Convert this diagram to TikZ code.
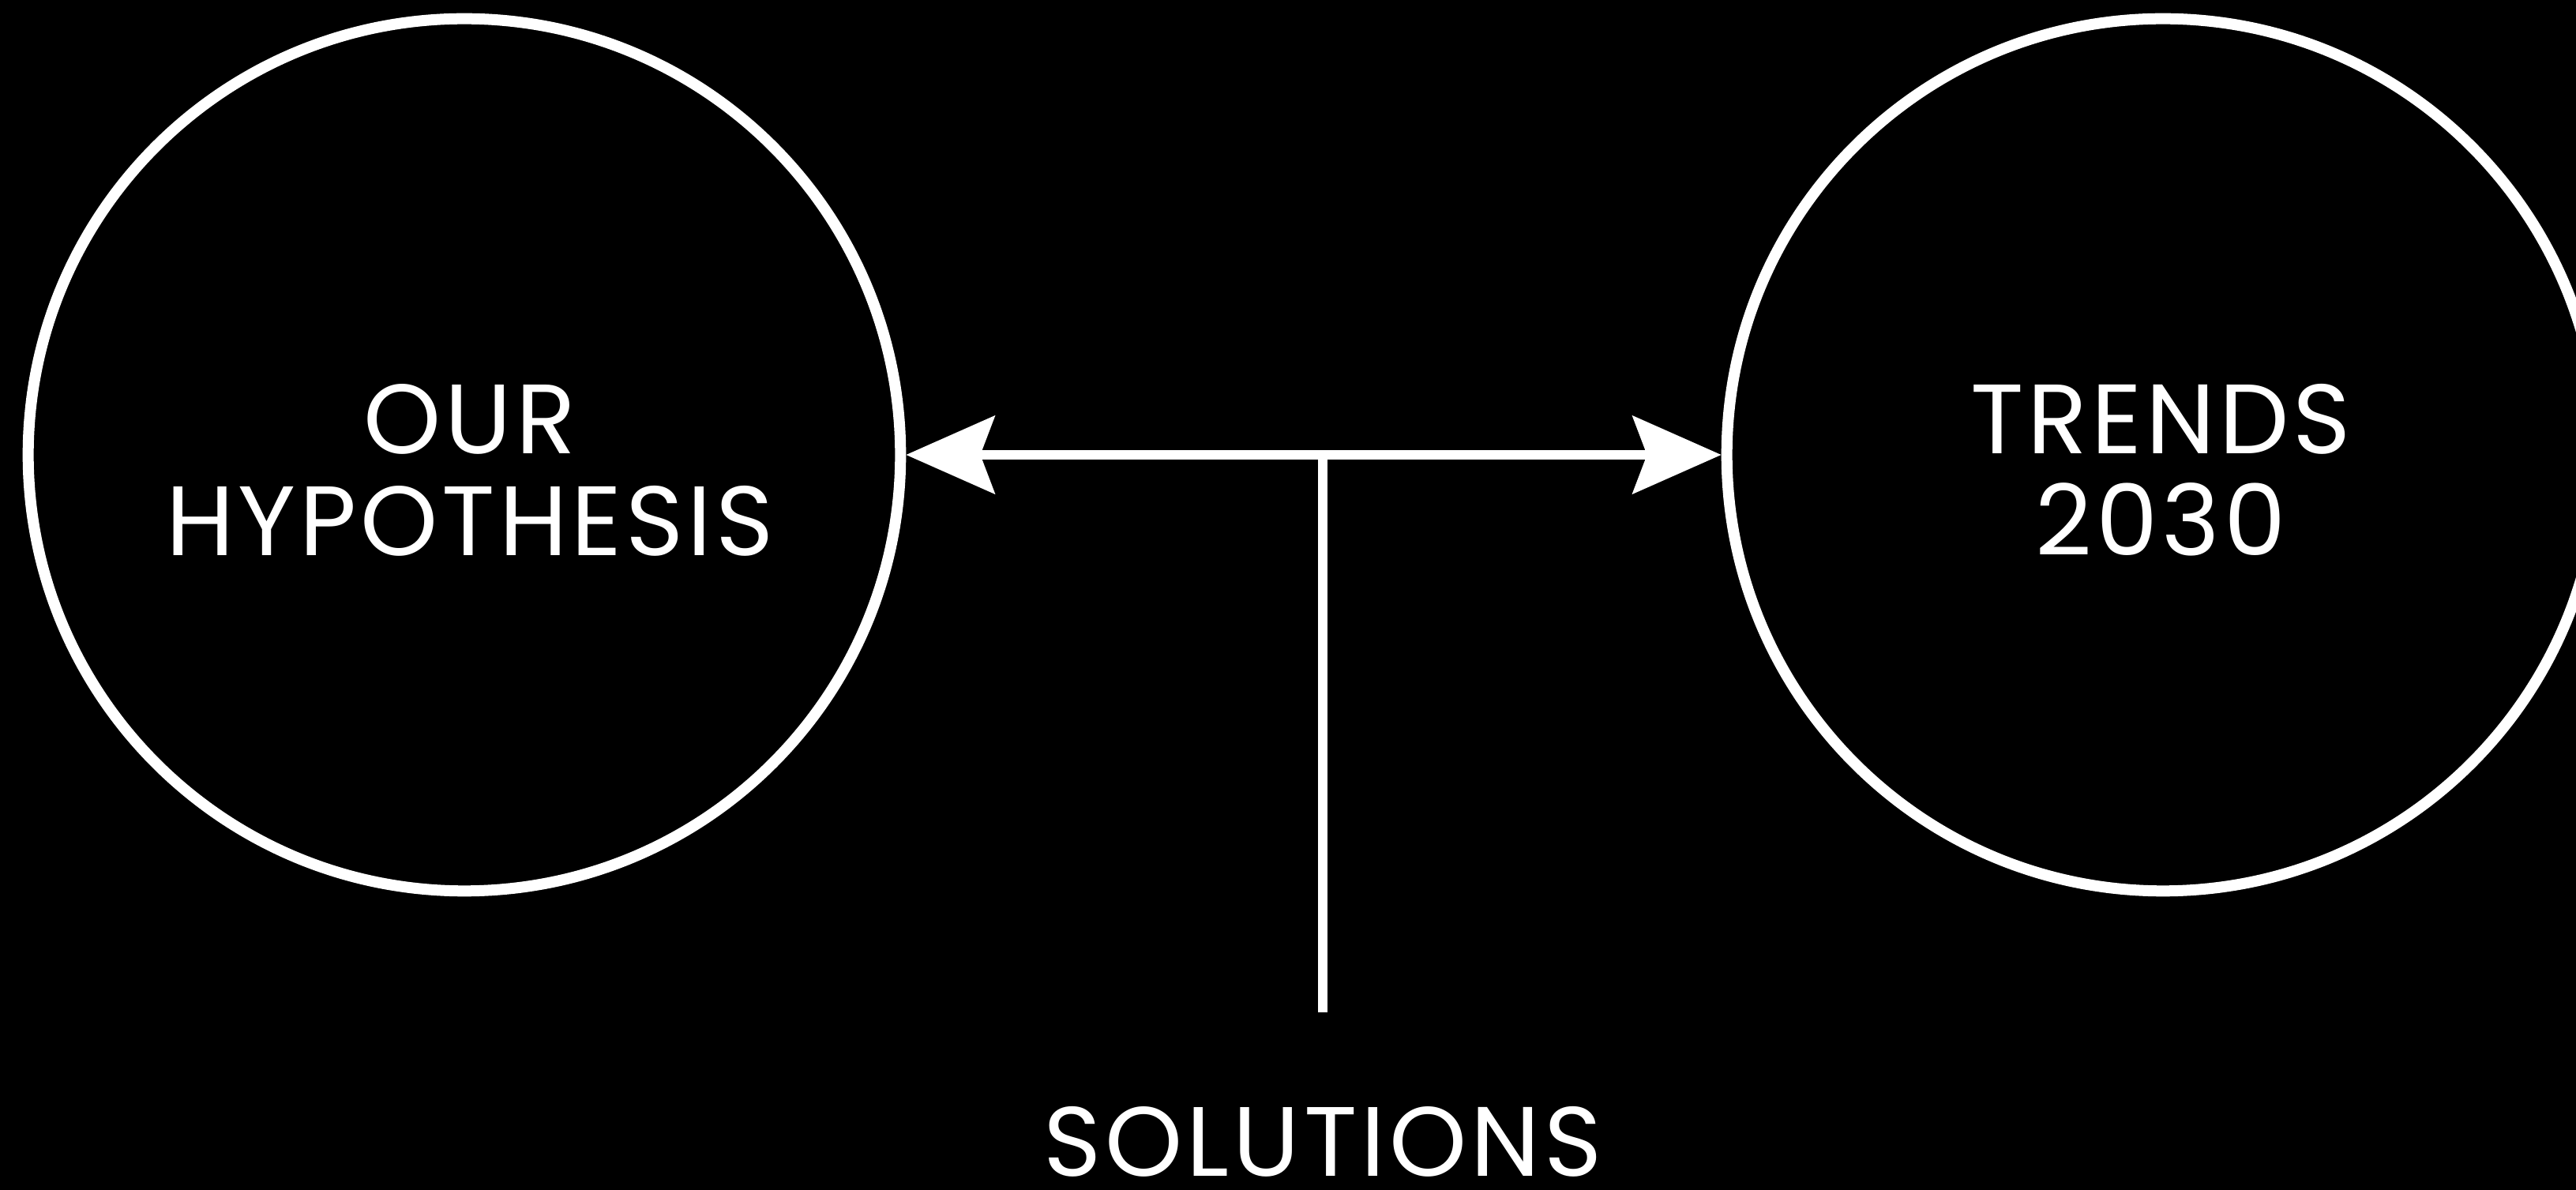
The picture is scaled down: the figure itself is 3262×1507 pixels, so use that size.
\documentclass[tikz,border=0pt]{standalone}
\usepackage{fontspec}
\setmainfont[LetterSpace=4]{Poppins}
\usepackage{tikz}
\usetikzlibrary{arrows.meta}
\definecolor{cbg}{HTML}{000000}
\definecolor{cfg}{HTML}{FFFFFF}

\begin{document}
\begin{tikzpicture}[x=0.01cm,y=-0.01cm,
    ring/.style={circle,draw=cfg,line width=0.14cm,minimum size=11.04cm,inner sep=0pt},
    lbl/.style={text=cfg,align=center,inner sep=0pt,font=\fontsize{35.5}{36.7}\selectfont},
    link/.style={cfg,line width=0.12cm},
    >={Stealth[length=1.12cm,width=0.98cm,inset=0.18cm]}]
  \fill[cbg] (0,0) rectangle (3262,1507);
  \useasboundingbox (0,0) rectangle (3262,1507);
  \node[ring] (hyp) at (588,576) {};
  \node[ring] (trends) at (2739,576) {};
  \node[lbl] (hyptext) at (595,595) {OUR\\HYPOTHESIS};
  \node[lbl] (trendstext) at (2736,595) {TRENDS\\2030};
  \draw[link,<->] (hyp) -- (trends);
  \coordinate (tee) at (1675,575);
  \coordinate (stem) at (1675,1282);
  \draw[link] (tee) -- (stem);
  \node[lbl,anchor=base] (sol) at (1675,1490) {SOLUTIONS};
\end{tikzpicture}
\end{document}
